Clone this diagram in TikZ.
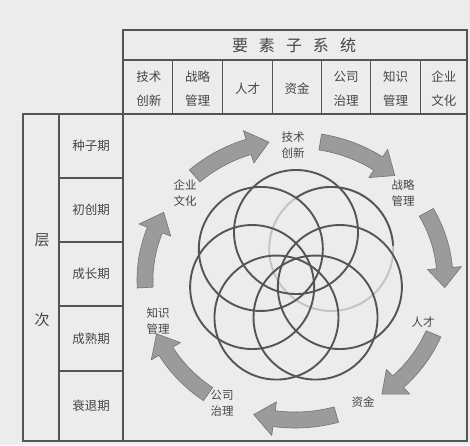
\documentclass[tikz,border=0pt]{standalone}
\usepackage{fontspec}
\newfontfamily\cjk{Noto Sans CJK SC}
\usetikzlibrary{calc}
\definecolor{bg}{RGB}{236,236,236}
\definecolor{ln}{RGB}{85,85,85}
\definecolor{tx}{RGB}{70,70,70}
\definecolor{arrfill}{RGB}{155,155,155}
\definecolor{arrdraw}{RGB}{115,115,115}
\definecolor{faint}{RGB}{195,195,195}
\newcommand\blockarc[2]{%
  \pgfmathsetmacro\hb{#2-8}%
  \filldraw[blockarrow] ($(O)+(#1:158 and 148)$) arc[start angle=#1, end angle=\hb, x radius=158, y radius=148]
    -- ($(O)+(\hb:167 and 157)$) -- ($(O)+(#2:150 and 140)$) -- ($(O)+(\hb:133 and 123)$)
    -- ($(O)+(\hb:142 and 132)$) arc[start angle=\hb, end angle=#1, x radius=142, y radius=132] -- cycle;}
\begin{document}
\begin{tikzpicture}[x=1pt,y=-1pt,
  frame/.style={draw=ln, line width=1.8pt},
  thinline/.style={draw=ln, line width=1.3pt},
  cell/.style={text=tx, font=\cjk\fontsize{12.5}{24}\selectfont, align=center, inner sep=0pt},
  head/.style={text=tx, font=\cjk\fontsize{16}{18}\selectfont, inner sep=0pt},
  stage/.style={text=tx, font=\cjk\fontsize{12.5}{15}\selectfont, inner sep=0pt},
  lbl/.style={text=tx, font=\cjk\fontsize{11.5}{15.5}\selectfont, align=center, inner sep=0pt},
  petal/.style={draw=ln, line width=1.9pt},
  blockarrow/.style={fill=arrfill, draw=arrdraw, line width=0.6pt, line join=round}
]
\fill[bg] (0,0) rectangle (470,445);
\useasboundingbox (0,0) rectangle (470,445);

% top table
\draw[frame] (123,30) rectangle (467,114);
\draw[thinline] (123,60) -- (467,60);
\foreach \x in {172.7,222.7,272.7,321.7,370.7,420.7} \draw[thinline] (\x,60) -- (\x,114);
\node[head] (hdr) at (294,45) {要\hspace{11pt}素\hspace{11pt}子\hspace{11pt}系\hspace{11pt}统};
\node[cell] (c1) at (148.9,89) {技术\\创新};
\node[cell] (c2) at (197.7,89) {战略\\管理};
\node[cell] (c3) at (247.7,89) {人才};
\node[cell] (c4) at (297.2,89) {资金};
\node[cell] (c5) at (346.2,89) {公司\\治理};
\node[cell] (c6) at (395.7,89) {知识\\管理};
\node[cell] (c7) at (443.9,89) {企业\\文化};

% left table and main frame
\draw[frame] (23,114) rectangle (467,441);
\draw[frame] (123,114) -- (123,441);
\draw[thinline] (59,114) -- (59,441);
\foreach \y in {178,242,306,371} \draw[thinline] (59,\y) -- (123,\y);
\node[head, font=\cjk\fontsize{15}{18}\selectfont] (ceng) at (42,240) {层};
\node[head, font=\cjk\fontsize{15}{18}\selectfont] (ci) at (42,320) {次};
\node[stage] (s1) at (91,146) {种子期};
\node[stage] (s2) at (91,210) {初创期};
\node[stage] (s3) at (91,274) {成长期};
\node[stage] (s4) at (91,339) {成熟期};
\node[stage] (s5) at (91,406) {衰退期};

% rosette of seven circles
\coordinate (R) at (296,277);
\coordinate (pC) at ($(R)+(-38.57:45)$);
\draw[petal, draw=faint] (pC) circle[radius=62];
\draw[petal] ($(pC)+(-125:62)$) arc[start angle=-125, end angle=-3, radius=62];
\foreach \t in {-90,12.86,64.29,115.71,167.14,218.57}
  \draw[petal] ($(R)+(\t:45)$) circle[radius=62];

% cycle labels
\node[lbl] (l1) at (293,145) {技术\\创新};
\node[lbl] (l2) at (403,193) {战略\\管理};
\node[lbl] (l3) at (423,322) {人才};
\node[lbl] (l4) at (363,402) {资金};
\node[lbl] (l5) at (222,403) {公司\\治理};
\node[lbl] (l6) at (158,321) {知识\\管理};
\node[lbl] (l7) at (185,193) {企业\\文化};

% curved block arrows
\coordinate (O) at (295,280);
\blockarc{-132}{-100}
\blockarc{-80.3}{-48.3}
\blockarc{-28.9}{3.1}
\blockarc{22.6}{54.6}
\blockarc{74}{106}
\blockarc{125.4}{157.4}
\blockarc{176.9}{208.9}
\end{tikzpicture}
\end{document}
